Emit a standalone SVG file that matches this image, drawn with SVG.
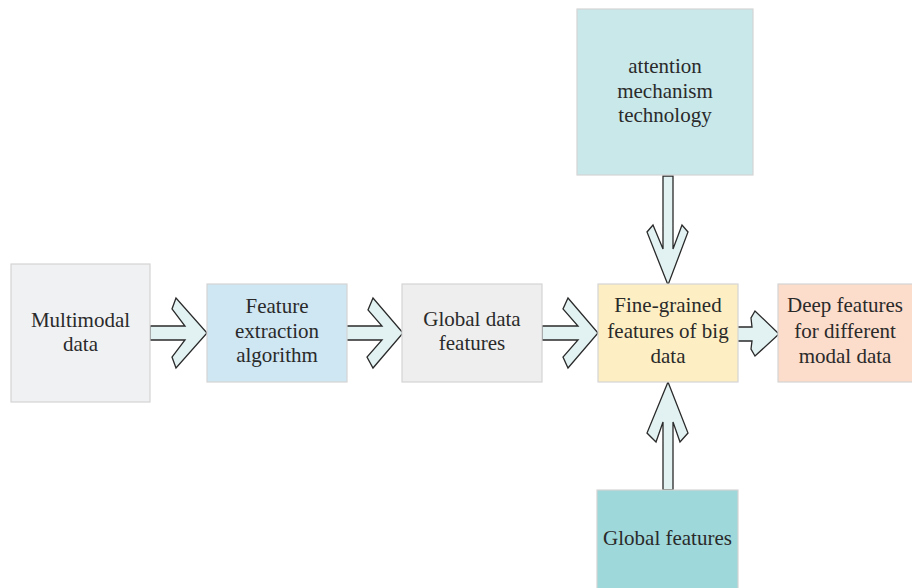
<svg xmlns="http://www.w3.org/2000/svg" width="912" height="588" viewBox="0 0 912 588">
<style>
.box{stroke:#d4d4d4;stroke-width:1.2}
.t{font-family:"Liberation Serif","Times New Roman",serif;font-size:21px;fill:#2a2a2a;text-anchor:middle}
.arr{fill:#e2f2f2;stroke:#2a2a2a;stroke-width:1.3;stroke-linejoin:miter}
</style>
<rect width="912" height="588" fill="#ffffff"/>
<g id="connectors">
<polygon class="arr" points="150,326 185,326 172,309 176,298 207,333 176,368 172,357 185,340 150,340"/>
<polygon class="arr" points="346,326 382,326 368,310 373,298 403,333 373,368 367,357 382,340 346,340"/>
<polygon class="arr" points="542,326 578,326 563,309 568,298 598,333 568,368 563,357 578,340 542,340"/>
<polygon class="arr" points="737,327 752,327 751,318 755,311 779,334 755,356 751,349 752,341 737,341"/>
<polygon class="arr" points="663,176 673,176 673,249 682,225 688,232 668,285 647,232 653,225 663,249"/>
<polygon class="arr" points="663,490 673,490 673,422 680,442 688,433 668,382 647,433 656,442 663,422"/>
</g>
<g id="n-multimodal">
<rect class="box" x="11" y="264" width="139" height="138" fill="#f0f1f3"/>
<text class="t" x="80.5" y="327">Multimodal</text>
<text class="t" x="80.5" y="351">data</text>
</g>
<g id="n-feature">
<rect class="box" x="207" y="284" width="140" height="98" fill="#cfe6f3"/>
<text class="t" x="277" y="313">Feature</text>
<text class="t" x="277" y="338">extraction</text>
<text class="t" x="277" y="362">algorithm</text>
</g>
<g id="n-global-data">
<rect class="box" x="402" y="284" width="140" height="98" fill="#eeeeee"/>
<text class="t" x="472" y="326">Global data</text>
<text class="t" x="472" y="350">features</text>
</g>
<g id="n-fine">
<rect class="box" x="598" y="284" width="140" height="98" fill="#fdefc3"/>
<text class="t" x="668" y="312">Fine-grained</text>
<text class="t" x="668" y="338">features of big</text>
<text class="t" x="668" y="363">data</text>
</g>
<g id="n-deep">
<rect class="box" x="778" y="284" width="136" height="98" fill="#fcdcca"/>
<text class="t" x="845" y="312">Deep features</text>
<text class="t" x="845" y="338">for different</text>
<text class="t" x="845" y="363">modal data</text>
</g>
<g id="n-attention">
<rect class="box" x="577" y="9" width="176" height="166" fill="#c9e8ea"/>
<text class="t" x="665" y="73">attention</text>
<text class="t" x="665" y="98">mechanism</text>
<text class="t" x="665" y="122">technology</text>
</g>
<g id="n-global-features">
<rect class="box" x="597" y="490" width="141" height="100" fill="#9ed8da"/>
<text class="t" x="667.5" y="545">Global features</text>
</g>
</svg>
